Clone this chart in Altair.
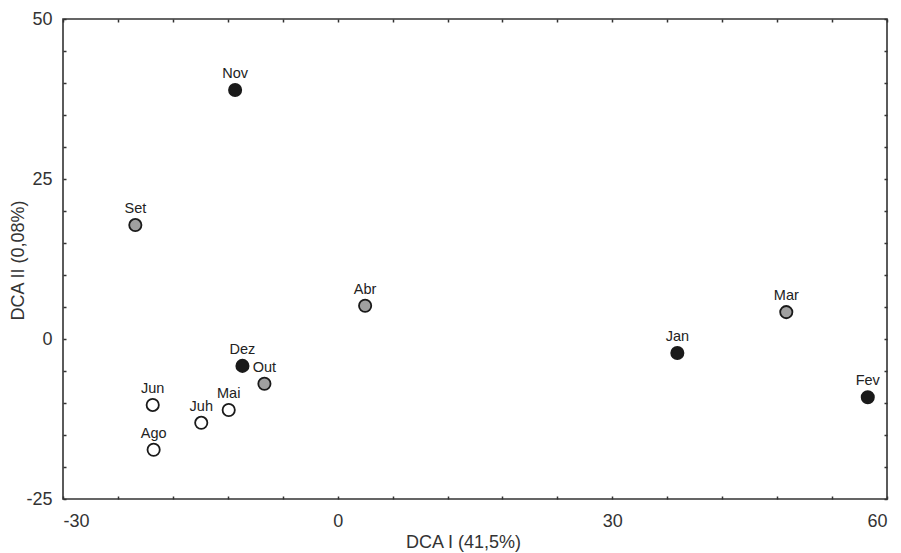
import altair as alt
import pandas as pd

meses = ["Nov", "Set", "Abr", "Mar", "Jan", "Fev", "Dez", "Out", "Jun", "Mai", "Juh", "Ago"]
dca1 = [-11.2, -22.1, 3.0, 49.0, 37.1, 57.9, -10.4, -8.0, -20.2, -11.9, -14.9, -20.1]
dca2 = [38.9, 17.8, 5.2, 4.2, -2.2, -9.1, -4.2, -7.0, -10.3, -11.1, -13.1, -17.3]
grupo = ["A", "B", "B", "B", "A", "A", "A", "B", "C", "C", "C", "C"]

grupos = ["A", "B", "C"]
cores = ["#1a1a1a", "#a0a0a0", "#ffffff"]

x_ticks = list(range(-30, 61, 6))
y_ticks = list(range(-25, 51, 5))

df = pd.DataFrame({"mes": meses, "x": dca1, "y": dca2, "g": grupo})

FONT = "Liberation Sans"
xs = alt.Scale(domain=[-30, 60], nice=False, zero=False)
ys = alt.Scale(domain=[-25, 50], nice=False, zero=False)

common_axis = dict(domain=False, grid=False, tickSize=3, tickWidth=1.5, tickColor="#333333",
                   offset=-3, labelFont=FONT, labelFontSize=18, labelColor="#333333",
                   titleFont=FONT, titleFontSize=18, titleColor="#333333", titleFontWeight="normal")

points = alt.Chart(df).mark_point(filled=True, shape="circle", size=150, stroke="#1a1a1a",
                                  strokeWidth=1.8, opacity=1).encode(
    x=alt.X("x:Q", scale=xs, axis=alt.Axis(orient="bottom", values=x_ticks,
            labelExpr="datum.value % 30 == 0 ? '' + datum.value : ''", labelPadding=13,
            title="DCA I (41,5%)", titleX=400, titleY=46, titleBaseline="middle",
            titleAnchor="start", titleAlign="center", **common_axis)),
    y=alt.Y("y:Q", scale=ys, axis=alt.Axis(orient="left", values=y_ticks,
            labelExpr="datum.value % 25 == 0 ? '' + datum.value : ''", labelPadding=11,
            title="DCA II (0,08%)", titleX=-48, titleY=241, titleBaseline="middle",
            titleAlign="center", **common_axis)),
    fill=alt.Fill("g:N", scale=alt.Scale(domain=grupos, range=cores), legend=None),
)

labels = alt.Chart(df).mark_text(font=FONT, fontSize=14.5, color="#222222", dy=-12,
                                 baseline="alphabetic", align="center").encode(
    x=alt.X("x:Q", scale=xs, axis=alt.Axis(orient="top", values=x_ticks, labels=False,
            title=None, **common_axis)),
    y=alt.Y("y:Q", scale=ys, axis=alt.Axis(orient="right", values=y_ticks, labels=False,
            title=None, **common_axis)),
    text="mes:N",
)

chart = alt.layer(points, labels).resolve_axis(x="independent", y="independent").properties(
    width=824, height=480,
    autosize=alt.AutoSizeParams(type="none"),
    padding={"left": 55, "top": 11, "right": 6, "bottom": 58},
    background="white",
).configure_view(stroke="#333333", strokeWidth=1.6)

chart.save("out.html", embed_options={"renderer": "svg", "actions": False})
